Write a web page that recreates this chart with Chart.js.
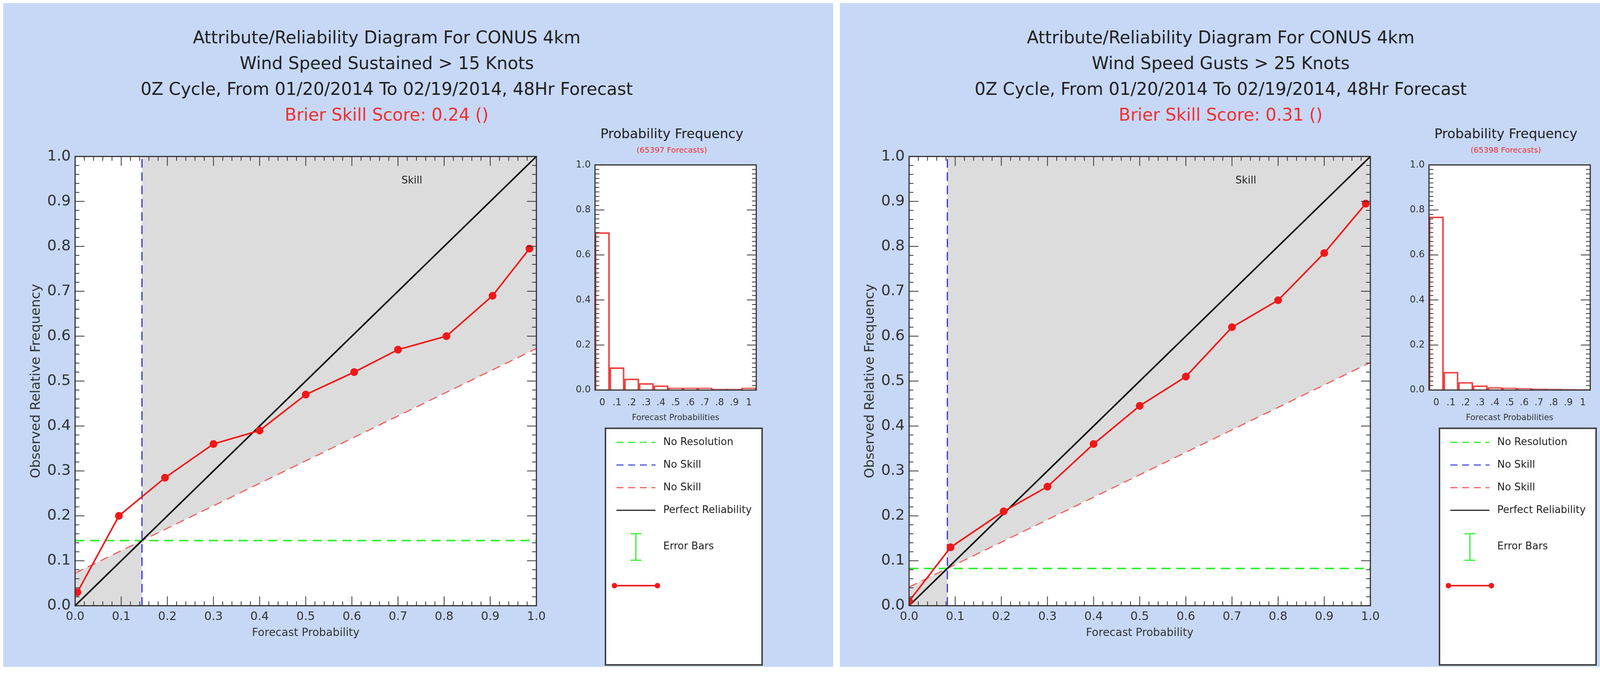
<!DOCTYPE html>
<html><head><meta charset="utf-8">
<script src="https://cdn.jsdelivr.net/npm/chart.js@4.4.1/dist/chart.umd.min.js"></script>
<style>
body{margin:0;background:#fff;width:4293px;height:1734px;position:relative;overflow:hidden;font-family:"DejaVu Sans",sans-serif}
.panel{position:absolute;background:#c6d8f6;top:8px;height:1700px}
.box{position:absolute}
.t{position:absolute;text-align:center;white-space:nowrap;transform:translateX(-50%);color:#222}
</style></head><body>
<div class="panel" style="left:8px;width:2125px"></div>
<div class="panel" style="left:2150px;width:2135px"></div>

<script>
// ---- data ----
const probBins = [0,0.1,0.2,0.3,0.4,0.5,0.6,0.7,0.8,0.9,1.0];
const histLabels = ['0','.1','.2','.3','.4','.5','.6','.7','.8','.9','1'];

const sustainedX = [0.005,0.095,0.195,0.3,0.4,0.5,0.605,0.7,0.805,0.905,0.985];
const sustainedY = [0.03,0.2,0.285,0.36,0.39,0.47,0.52,0.57,0.6,0.69,0.795];
const sustainedClim = 0.145;
const sustainedHist = [0.70,0.10,0.05,0.03,0.02,0.01,0.01,0.01,0.005,0.005,0.01];

const gustsX = [0.0,0.09,0.205,0.3,0.4,0.5,0.6,0.7,0.8,0.9,0.99];
const gustsY = [0.01,0.13,0.21,0.265,0.36,0.445,0.51,0.62,0.68,0.785,0.895];
const gustsClim = 0.083;
const gustsHist = [0.77,0.08,0.035,0.02,0.012,0.01,0.008,0.006,0.005,0.004,0.003];

const FONT = '"DejaVu Sans", sans-serif';

function addText(x, y, txt, size, color){
  const d = document.createElement('div');
  d.className = 't';
  d.style.left = x + 'px'; d.style.top = y + 'px';
  d.style.fontSize = size + 'px'; d.style.color = color || '#222';
  d.textContent = txt;
  document.body.appendChild(d);
}
function addCanvas(x, y, w, h){
  const d = document.createElement('div');
  d.className = 'box';
  d.style.cssText = `left:${x}px;top:${y}px;width:${w}px;height:${h}px`;
  const c = document.createElement('canvas');
  d.appendChild(c);
  document.body.appendChild(d);
  return c;
}

// white plot background
const whiteArea = {
  id: 'whiteArea',
  beforeDraw(chart) {
    const a = chart.chartArea, ctx = chart.ctx;
    ctx.save(); ctx.fillStyle = '#fff';
    ctx.fillRect(a.left, a.top, a.right - a.left, a.bottom - a.top);
    ctx.restore();
  }
};

// inward ticks on all four sides, IDL style
const idlTicks = {
  id: 'idlTicks',
  afterDraw(chart, args, opts) {
    const ctx = chart.ctx, a = chart.chartArea;
    const xs = chart.scales.x, ys = chart.scales.y;
    ctx.save();
    ctx.strokeStyle = '#333'; ctx.lineWidth = 3;
    ctx.strokeRect(a.left, a.top, a.right - a.left, a.bottom - a.top);
    ctx.lineWidth = 2;
    const tk = (pos, len, vertical) => {
      ctx.beginPath();
      if (vertical) {
        ctx.moveTo(pos, a.bottom); ctx.lineTo(pos, a.bottom - len);
        ctx.moveTo(pos, a.top); ctx.lineTo(pos, a.top + len);
      } else {
        ctx.moveTo(a.left, pos); ctx.lineTo(a.left + len, pos);
        ctx.moveTo(a.right, pos); ctx.lineTo(a.right - len, pos);
      }
      ctx.stroke();
    };
    if (opts.xMinor) {
      for (let i = 0; i <= opts.xMinor.n; i++) {
        const v = opts.xMinor.min + i * opts.xMinor.step;
        tk(xs.getPixelForValue(v), (i % opts.xMinor.every === 0) ? 24 : 11, true);
      }
    }
    for (let i = 0; i <= opts.yMinor.n; i++) {
      const v = i * opts.yMinor.step;
      tk(ys.getPixelForValue(v), (i % opts.yMinor.every === 0) ? 24 : 11, false);
    }
    if (opts.skill) {
      ctx.fillStyle = '#222'; ctx.font = '26px ' + FONT; ctx.textAlign = 'center';
      ctx.fillText('Skill', xs.getPixelForValue(0.73), ys.getPixelForValue(0.94));
    }
    ctx.restore();
  }
};

function reliability(canvas, px, py, clim) {
  const ns = x => (x + clim) / 2;
  new Chart(canvas, {
    type: 'scatter',
    data: {
      datasets: [
        { data: [{x: clim, y: ns(clim)}, {x: 1, y: ns(1)}], showLine: true, fill: 'end',
          backgroundColor: '#dcdcdc', borderWidth: 0, pointRadius: 0, order: 10 },
        { data: [{x: 0, y: ns(0)}, {x: clim, y: ns(clim)}], showLine: true, fill: 'start',
          backgroundColor: '#dcdcdc', borderWidth: 0, pointRadius: 0, order: 10 },
        { data: [{x: 0, y: ns(0)}, {x: 1, y: ns(1)}], showLine: true, borderColor: '#f06060',
          borderDash: [22, 14], borderWidth: 3, pointRadius: 0, order: 5 },
        { data: [{x: 0, y: clim}, {x: 1, y: clim}], showLine: true, borderColor: '#33ee33',
          borderDash: [24, 14], borderWidth: 4, pointRadius: 0, order: 4 },
        { data: [{x: clim, y: 0}, {x: clim, y: 1}], showLine: true, borderColor: '#3030dd',
          borderDash: [22, 12], borderWidth: 3, pointRadius: 0, order: 3 },
        { data: [{x: 0, y: 0}, {x: 1, y: 1}], showLine: true, borderColor: '#111',
          borderWidth: 4, pointRadius: 0, order: 2 },
        { data: px.map((x, i) => ({x: x, y: py[i]})), showLine: true, borderColor: '#f01818',
          backgroundColor: '#f01818', borderWidth: 4, pointRadius: 8, order: 1 }
      ]
    },
    options: {
      responsive: true, maintainAspectRatio: false, animation: false,
      layout: { padding: { top: 12, right: 20 } },
      plugins: { legend: { display: false }, tooltip: { enabled: false },
        idlTicks: { xMinor: {min: 0, n: 50, step: 0.02, every: 5}, yMinor: {n: 50, step: 0.02, every: 5}, skill: true } },
      scales: {
        x: { type: 'linear', min: 0, max: 1, grid: { display: false },
          border: { display: false },
          ticks: { stepSize: 0.1, color: '#333', font: { size: 30, family: FONT }, callback: v => v.toFixed(1), maxRotation: 0 },
          title: { display: true, text: 'Forecast Probability', color: '#333', font: { size: 28, family: FONT } } },
        y: { min: 0, max: 1, grid: { display: false }, border: { display: false },
          ticks: { stepSize: 0.1, color: '#333', font: { size: 38, family: FONT }, callback: v => v.toFixed(1) },
          title: { display: true, text: 'Observed Relative Frequency', color: '#333', font: { size: 34, family: FONT } } }
      }
    },
    plugins: [whiteArea, idlTicks]
  });
}

function histogram(canvas, vals) {
  new Chart(canvas, {
    type: 'bar',
    data: { labels: histLabels, datasets: [{ data: vals, backgroundColor: '#fff', borderColor: '#f04040',
      borderWidth: 4, barPercentage: 1, categoryPercentage: 1 }] },
    options: {
      responsive: true, maintainAspectRatio: false, animation: false,
      layout: { padding: { right: 8, top: 8 } },
      plugins: { legend: { display: false }, tooltip: { enabled: false },
        idlTicks: { yMinor: {n: 50, step: 0.02, every: 10} } },
      scales: {
        x: { offset: true, grid: { display: false }, border: { display: false },
          ticks: { color: '#333', font: { size: 24, family: FONT }, maxRotation: 0, padding: 10 },
          title: { display: true, text: 'Forecast Probabilities', color: '#333', font: { size: 21, family: FONT }, padding: 2 } },
        y: { min: 0, max: 1, grid: { display: false }, border: { display: false },
          ticks: { stepSize: 0.2, color: '#333', font: { size: 24, family: FONT }, callback: v => v.toFixed(1) } }
      }
    },
    plugins: [whiteArea, idlTicks]
  });
}

function legendBox(x, y, w, h) {
  const c = document.createElement('canvas');
  c.width = w; c.height = h;
  c.style.cssText = `position:absolute;left:${x}px;top:${y}px`;
  document.body.appendChild(c);
  const g = c.getContext('2d');
  g.fillStyle = '#fff'; g.fillRect(0, 0, w, h);
  g.strokeStyle = '#444'; g.lineWidth = 4; g.strokeRect(2, 2, w - 4, h - 4);
  const rows = [['No Resolution', '#33ee33', [18, 12]], ['No Skill', '#5050dd', [18, 12]],
                ['No Skill', '#f06060', [18, 12]], ['Perfect Reliability', '#222', []]];
  g.font = '26px ' + FONT; g.textBaseline = 'middle';
  rows.forEach((r, i) => {
    const yy = 38 + i * 58;
    g.strokeStyle = r[1]; g.lineWidth = 3; g.setLineDash(r[2]);
    g.beginPath(); g.moveTo(30, yy); g.lineTo(130, yy); g.stroke();
    g.setLineDash([]); g.fillStyle = '#222'; g.fillText(r[0], 150, yy);
  });
  g.strokeStyle = '#33ee33'; g.lineWidth = 3;
  g.beginPath(); g.moveTo(80, 272); g.lineTo(80, 340); g.moveTo(66, 272); g.lineTo(94, 272);
  g.moveTo(66, 340); g.lineTo(94, 340); g.stroke();
  g.fillText('Error Bars', 150, 305);
  g.strokeStyle = '#f01818'; g.fillStyle = '#f01818'; g.lineWidth = 4;
  g.beginPath(); g.moveTo(25, 405); g.lineTo(135, 405); g.stroke();
  [25, 135].forEach(px => { g.beginPath(); g.arc(px, 405, 7, 0, 7); g.fill(); });
}

function panel(off, title2, score, forecasts, px, py, clim, hist) {
  const cx = off + 990;
  addText(cx, 70, 'Attribute/Reliability Diagram For CONUS 4km', 44);
  addText(cx, 136, title2, 44);
  addText(cx, 202, '0Z Cycle, From 01/20/2014 To 02/19/2014, 48Hr Forecast', 44);
  addText(cx, 268, 'Brier Skill Score: ' + score + ' ()', 44, '#f03030');
  reliability(addCanvas(off + 69, 375, 1331, 1268), px, py, clim);
  addText(off + 1720, 322, 'Probability Frequency', 34);
  addText(off + 1720, 372, '(' + forecasts + ' Forecasts)', 20, '#f03030');
  histogram(addCanvas(off + 1471, 405, 473, 680), hist);
  legendBox(off + 1548, 1095, 405, 610);
}

panel(0, 'Wind Speed Sustained > 15 Knots', '0.24', '65397', sustainedX, sustainedY, sustainedClim, sustainedHist);
panel(2135, 'Wind Speed Gusts > 25 Knots', '0.31', '65398', gustsX, gustsY, gustsClim, gustsHist);
</script>
</body></html>
